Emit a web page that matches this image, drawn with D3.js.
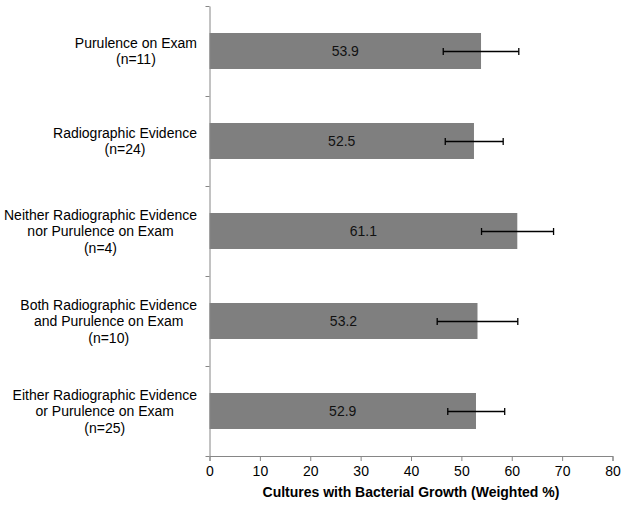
<!DOCTYPE html>
<html><head><meta charset="utf-8">
<script src="https://cdn.jsdelivr.net/npm/d3@7"></script>
<style>body{margin:0;background:#fff}svg{display:block}text{font-family:"Liberation Sans",Arial,sans-serif}</style>
</head><body><svg id="c" width="624" height="506"></svg>
<script>
const categories = [
  ["Purulence on Exam","(n=11)"],
  ["Radiographic Evidence","(n=24)"],
  ["Neither Radiographic Evidence","nor Purulence on Exam","(n=4)"],
  ["Both Radiographic Evidence","and Purulence on Exam","(n=10)"],
  ["Either Radiographic Evidence","or Purulence on Exam","(n=25)"]
];
const values = [53.9, 52.5, 61.1, 53.2, 52.9];
const lower = [46.4, 46.8, 54.0, 45.2, 47.3];
const upper = [61.4, 58.3, 68.3, 61.2, 58.6];
const xTicks = [0,10,20,30,40,50,60,70,80];
const xTitle = "Cultures with Bacterial Growth (Weighted %)";

const svg = d3.select("#c");
const m = {l:209.5, r:11.5, t:6, b:50};
const W = 624, H = 506;
const x = d3.scaleLinear().domain([0,80]).range([m.l, W-m.r]);
const idx = categories.map((d,i)=>i);
const y = d3.scaleBand().domain(idx).range([m.t, H-m.b]).paddingInner(0.6).paddingOuter(0.3);
const axisColor = "#868686";

// bars
svg.append("g").selectAll("rect").data(idx).join("rect")
  .attr("x", x(0)).attr("y", i=>y(i))
  .attr("width", i=>x(values[i])-x(0)).attr("height", y.bandwidth())
  .attr("fill", "#7f7f7f");

// value labels
svg.append("g").selectAll("text").data(idx).join("text")
  .attr("x", i=>(x(0)+x(values[i]))/2).attr("y", i=>y(i)+y.bandwidth()/2)
  .attr("dy","0.36em").attr("text-anchor","middle")
  .attr("font-size",14).attr("fill","#111")
  .text(i=>values[i].toFixed(1));

// error bars
const eb = svg.append("g").attr("stroke","#000").attr("stroke-width",1.3);
idx.forEach(i=>{
  const cy = Math.round(y(i)+y.bandwidth()/2)+0.5;
  eb.append("line").attr("x1",x(lower[i])).attr("x2",x(upper[i])).attr("y1",cy).attr("y2",cy);
  eb.append("line").attr("x1",x(lower[i])).attr("x2",x(lower[i])).attr("y1",cy-3.5).attr("y2",cy+3.5);
  eb.append("line").attr("x1",x(upper[i])).attr("x2",x(upper[i])).attr("y1",cy-3.5).attr("y2",cy+3.5);
});

// x axis
const xa = svg.append("g").attr("transform",`translate(0,${H-m.b})`)
  .call(d3.axisBottom(x).tickValues(xTicks).tickSize(5).tickSizeOuter(5).tickPadding(5));
xa.selectAll("path,line").attr("stroke",axisColor);
xa.selectAll("text").attr("font-size",14).attr("fill","#000").attr("font-family","Liberation Sans, Arial, sans-serif");

// y axis with ticks at band boundaries
const yb = d3.scaleLinear().domain([0,categories.length]).range([m.t,H-m.b]);
const ya = svg.append("g").attr("transform",`translate(${m.l},0)`)
  .call(d3.axisLeft(yb).tickValues(d3.range(categories.length+1)).tickSize(4).tickSizeOuter(0).tickFormat(""));
ya.selectAll("path,line").attr("stroke",axisColor);

// category labels: block right-aligned, lines centred in block
const lh = 16.5, rightEdge = 197;
idx.forEach(i=>{
  const lines = categories[i];
  const g = svg.append("g");
  const ts = lines.map((t,k)=> g.append("text").attr("font-size",14).attr("fill","#000")
     .attr("text-anchor","middle").text(t));
  const w = d3.max(ts, t=>t.node().getComputedTextLength());
  const cx = rightEdge - w/2;
  const cy = y(i)+y.bandwidth()/2;
  ts.forEach((t,k)=> t.attr("x",cx).attr("y", cy + (k-(lines.length-1)/2)*lh).attr("dy","0.36em"));
});

// axis title
svg.append("text").attr("x", (x(0)+x(80))/2).attr("y", 497)
  .attr("text-anchor","middle").attr("font-size",14).attr("font-weight","bold").attr("fill","#000")
  .text(xTitle);
</script></body></html>
